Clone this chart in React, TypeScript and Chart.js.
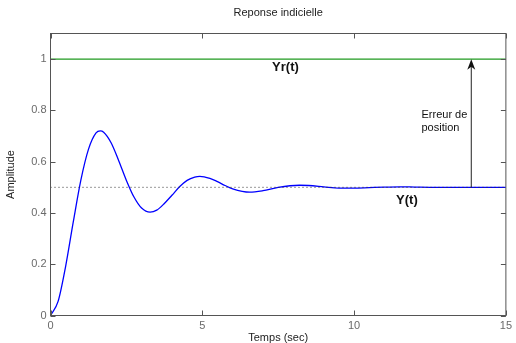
import React, { useEffect, useRef } from "react";
import { Chart, registerables } from "chart.js";

Chart.register(...registerables);

// Step response Y(t)
const timeSec = [
  0, 0.25, 0.5, 0.75, 1.0, 1.25, 1.5, 1.64, 1.75, 2.0, 2.25, 2.5, 2.75, 3.0, 3.28, 3.5, 3.75,
  4.0, 4.25, 4.5, 4.75, 4.92, 5.25, 5.5, 5.75, 6.0, 6.56, 7.0, 7.5, 8.2, 8.5, 9.0, 9.5, 10.0,
  10.5, 11.0, 11.5, 12.0, 12.5, 13.0, 13.5, 14.0, 14.5, 15.0,
];
const response = [
  0, 0.055, 0.193, 0.365, 0.528, 0.648, 0.712, 0.72, 0.715, 0.673, 0.603, 0.527, 0.462, 0.419,
  0.403, 0.411, 0.437, 0.469, 0.502, 0.527, 0.54, 0.543, 0.535, 0.522, 0.507, 0.494, 0.481,
  0.487, 0.5, 0.508, 0.507, 0.502, 0.497, 0.497, 0.499, 0.501, 0.502, 0.501, 0.5, 0.4995,
  0.4997, 0.5, 0.5, 0.5,
];
const referenceValue = 1; // Yr(t)
const steadyValue = 0.5; // final value of Y(t)
const timeRange = [0, 15];
const arrowTime = 13.86;

const xTickValues = [0, 5, 10, 15];
const xTickLabels = ["0", "5", "10", "15"];
const yTickValues = [0, 0.2, 0.4, 0.6, 0.8, 1];
const yTickLabels = ["0", "0.2", "0.4", "0.6", "0.8", "1"];

// text annotations: [text, x (sec), y (amplitude), align, font]
const annotations: [string, number, number, CanvasTextAlign, string][] = [
  ["Yr(t)", 7.74, 0.969, "center", "bold 13px 'Liberation Sans', Arial, sans-serif"],
  ["Y(t)", 11.74, 0.449, "center", "bold 13px 'Liberation Sans', Arial, sans-serif"],
  ["Erreur de", 12.22, 0.781, "left", "11px 'Liberation Sans', Arial, sans-serif"],
  ["position", 12.22, 0.733, "left", "11px 'Liberation Sans', Arial, sans-serif"],
];

const FONT = "'Liberation Sans', Arial, sans-serif";

const framePlugin = {
  id: "matlabFrame",
  afterDatasetsDraw(chart: any) {
    const { ctx, chartArea } = chart;
    const { left, right, top, bottom } = chartArea;
    const xs = chart.scales.x;
    const ys = chart.scales.y;
    ctx.save();
    // frame
    ctx.strokeStyle = "#555";
    ctx.lineWidth = 1;
    ctx.strokeRect(left, top, right - left, bottom - top);
    // inward ticks
    const tl = 5;
    ctx.beginPath();
    xTickValues.forEach((v) => {
      const px = Math.round(xs.getPixelForValue(v)) + 0.5;
      ctx.moveTo(px, bottom);
      ctx.lineTo(px, bottom - tl);
      ctx.moveTo(px, top);
      ctx.lineTo(px, top + tl);
    });
    yTickValues.forEach((v) => {
      const py = Math.round(ys.getPixelForValue(v)) + 0.5;
      ctx.moveTo(left, py);
      ctx.lineTo(left + tl, py);
      ctx.moveTo(right, py);
      ctx.lineTo(right - tl, py);
    });
    ctx.stroke();
    // arrow head
    const ax = xs.getPixelForValue(arrowTime);
    const ay = ys.getPixelForValue(referenceValue);
    ctx.fillStyle = "#111";
    ctx.beginPath();
    ctx.moveTo(ax, ay);
    ctx.lineTo(ax + 4, ay + 10.5);
    ctx.lineTo(ax, ay + 7.5);
    ctx.lineTo(ax - 4, ay + 10.5);
    ctx.closePath();
    ctx.fill();
    // texts
    ctx.fillStyle = "#111";
    ctx.textBaseline = "middle";
    annotations.forEach(([t, x, y, align, font]) => {
      ctx.font = font;
      ctx.textAlign = align;
      ctx.fillText(t, xs.getPixelForValue(x), ys.getPixelForValue(y));
    });
    ctx.restore();
  },
};

export default function App() {
  const ref = useRef<HTMLCanvasElement | null>(null);
  useEffect(() => {
    document.body.style.margin = "0";
    const canvas = ref.current;
    if (!canvas) return;
    const chart = new Chart(canvas, {
      type: "line",
      data: {
        datasets: [
          {
            data: timeRange.map((x) => ({ x, y: steadyValue })),
            borderColor: "#333",
            borderWidth: 1,
            borderDash: [1, 3],
            pointRadius: 0,
          },
          {
            data: timeRange.map((x) => ({ x, y: referenceValue })),
            borderColor: "#1f9a1f",
            borderWidth: 1.2,
            pointRadius: 0,
          },
          {
            data: [
              { x: arrowTime, y: steadyValue },
              { x: arrowTime, y: referenceValue - 0.02 },
            ],
            borderColor: "#222",
            borderWidth: 1,
            pointRadius: 0,
          },
          {
            data: timeSec.map((x, i) => ({ x, y: response[i] })),
            borderColor: "#0000ff",
            borderWidth: 1.3,
            pointRadius: 0,
            cubicInterpolationMode: "monotone",
          },
        ],
      },
      options: {
        animation: false,
        responsive: false,
        events: [],
        layout: { padding: { left: 0, right: 7.5, top: 0, bottom: 0 } },
        plugins: {
          legend: { display: false },
          tooltip: { enabled: false },
          title: {
            display: true,
            text: "Reponse indicielle",
            fullSize: false,
            color: "#222",
            font: { family: FONT, size: 11, weight: "normal", lineHeight: 1 },
            padding: { top: 7, bottom: 15.5 },
          },
        },
        scales: {
          x: {
            type: "linear",
            min: timeRange[0],
            max: timeRange[1],
            afterBuildTicks: (s: any) => {
              s.ticks = xTickValues.map((value) => ({ value }));
            },
            afterFit: (s: any) => {
              s.height = 27.5;
            },
            ticks: {
              color: "#6a6a6a",
              font: { family: FONT, size: 11 },
              padding: 4,
              maxRotation: 0,
              autoSkip: false,
              callback: (_v: any, i: number) => xTickLabels[i],
            },
            grid: { display: false, drawTicks: false },
            border: { display: false },
            title: {
              display: true,
              text: "Temps (sec)",
              color: "#222",
              font: { family: FONT, size: 11, lineHeight: 1 },
              padding: 0,
            },
          },
          y: {
            type: "linear",
            min: 0,
            max: 1.1,
            afterBuildTicks: (s: any) => {
              s.ticks = yTickValues.map((value) => ({ value }));
            },
            afterFit: (s: any) => {
              s.width = 50.5;
            },
            ticks: {
              color: "#6a6a6a",
              font: { family: FONT, size: 11 },
              padding: 4,
              autoSkip: false,
              callback: (_v: any, i: number) => yTickLabels[i],
            },
            grid: { display: false, drawTicks: false },
            border: { display: false },
            title: {
              display: true,
              text: "Amplitude",
              color: "#222",
              font: { family: FONT, size: 11, lineHeight: 1 },
              padding: { top: 5, bottom: 0 },
            },
          },
        },
      },
      plugins: [framePlugin],
    } as any);
    return () => chart.destroy();
  }, []);
  return <canvas ref={ref} width={516} height={343} style={{ display: "block" }} />;
}
